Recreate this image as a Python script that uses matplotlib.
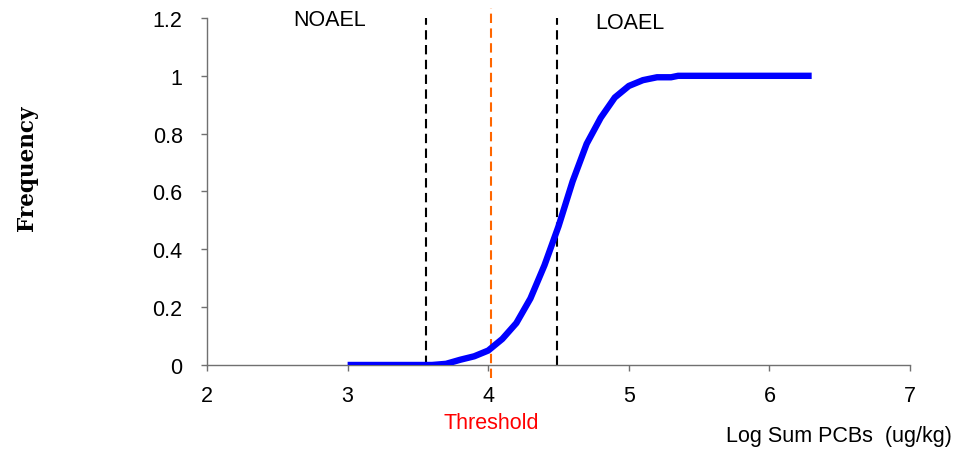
import matplotlib
matplotlib.use("Agg")
import matplotlib.pyplot as plt

# cumulative frequency of effect vs log sum PCBs
log_pcb = [3.0, 3.6, 3.7, 3.8, 3.9, 4.0, 4.1, 4.2, 4.3, 4.4, 4.5, 4.6,
           4.7, 4.8, 4.9, 5.0, 5.1, 5.2, 5.3, 5.35, 6.3]
freq = [0.0, 0.0, 0.004, 0.018, 0.03, 0.05, 0.09, 0.145, 0.23, 0.345, 0.48,
        0.635, 0.765, 0.855, 0.925, 0.965, 0.985, 0.995, 0.995, 1.0, 1.0]

noael = 3.56
threshold = 4.02
loael = 4.49

xticks = [2, 3, 4, 5, 6, 7]
yticks = [0, 0.2, 0.4, 0.6, 0.8, 1, 1.2]
ytick_labels = ["0", "0.2", "0.4", "0.6", "0.8", "1", "1.2"]

plt.rcParams['font.family'] = ['Liberation Sans', 'DejaVu Sans']
fs = 15.5

fig = plt.figure(figsize=(9.57, 4.52), dpi=100)
ax = fig.add_axes([0.2163, 0.1903, 0.7347, 0.7677])

ax.plot(log_pcb, freq, color='#0000FF', lw=4.6, solid_capstyle='butt',
        solid_joinstyle='round', zorder=3)

dash = (0, (4.5, 2.6))
ax.plot([noael, noael], [0.0, 1.2], color='black', lw=1.5, linestyle=dash,
        clip_on=False, zorder=2)
ax.plot([loael, loael], [0.0, 1.2], color='black', lw=1.5, linestyle=dash,
        clip_on=False, zorder=2)
ax.plot([threshold, threshold], [-0.045, 1.235], color='#FF6600', lw=1.5,
        linestyle=dash, clip_on=False, zorder=2)

ax.set_xlim(2, 7)
ax.set_ylim(0, 1.2)
ax.set_xticks(xticks)
ax.set_yticks(yticks)
ax.set_yticklabels(ytick_labels)

for side in ['top', 'right']:
    ax.spines[side].set_visible(False)
for side in ['left', 'bottom']:
    ax.spines[side].set_color('#707070')
    ax.spines[side].set_linewidth(1.0)

ax.tick_params(axis='both', direction='out', length=4.5, width=1.0,
               color='#707070', labelsize=fs, labelcolor='black')
ax.tick_params(axis='y', pad=13)
ax.tick_params(axis='x', pad=10)

ax.text(2.87, 1.194, "NOAEL", ha='center', va='center', fontsize=fs,
        clip_on=False)
ax.text(5.01, 1.183, "LOAEL", ha='center', va='center', fontsize=fs,
        clip_on=False)
ax.text(threshold, -0.2, "Threshold", ha='center', va='center',
        fontsize=fs, color='#FF0000', clip_on=False)

fig.text(952 / 957, 1 - 437 / 452, "Log Sum PCBs  (ug/kg)", ha='right',
         va='center', fontsize=fs)
fig.text(27 / 957, 1 - 168 / 452, "Frequency", rotation=90, ha='center',
         va='center', fontsize=15.5, fontweight='bold', family='DejaVu Serif')

fig.savefig("out.png", dpi=100)
